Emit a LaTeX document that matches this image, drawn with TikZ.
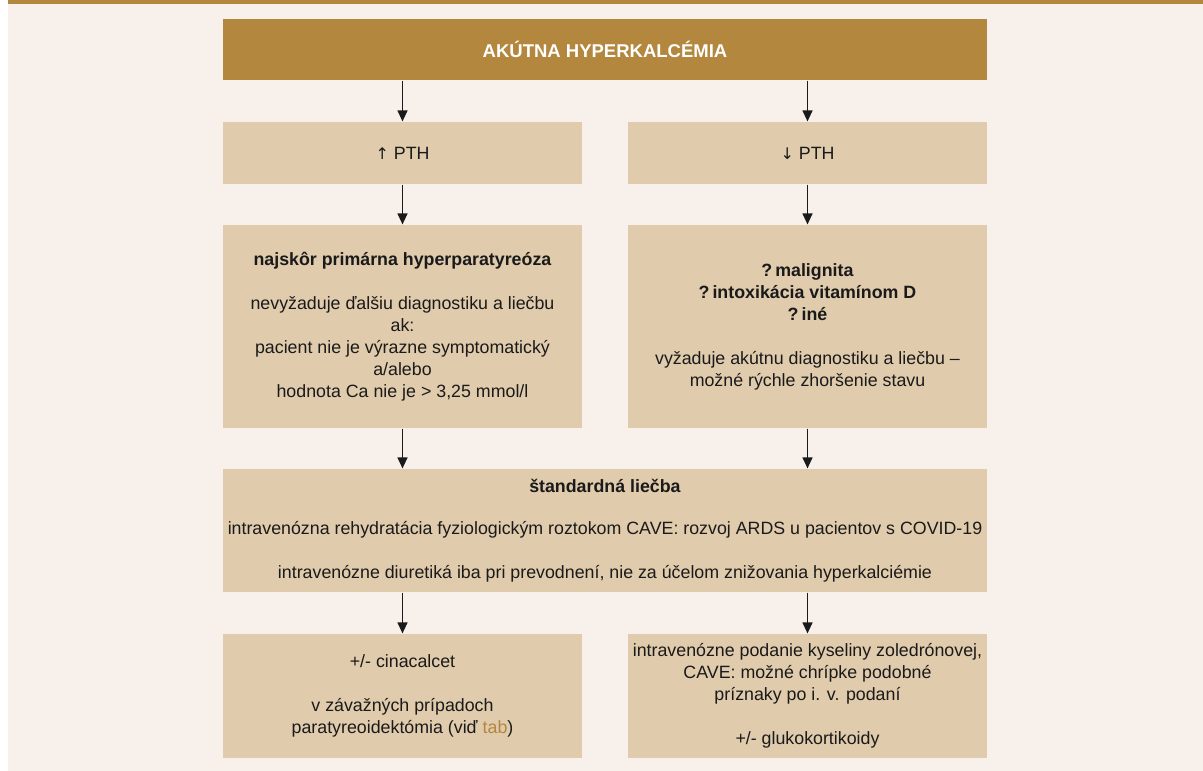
\documentclass[tikz,border=0pt]{standalone}
\usepackage{fontspec}
\setmainfont{Liberation Sans}
\newfontfamily\arrowfont{DejaVu Sans}
\usetikzlibrary{arrows.meta}
\definecolor{gold}{HTML}{B3873D}
\definecolor{sand}{HTML}{E0CBAC}
\definecolor{cream}{HTML}{F8F0EA}
\definecolor{ink}{HTML}{1A1A1A}

\begin{document}
\begin{tikzpicture}[x=1pt,y=-1pt,>={Triangle[length=11pt,width=10pt]},line width=1.2pt,
                    box/.style={fill=sand,text=ink,align=center,inner sep=0pt,
                                minimum width=359pt,font=\fontsize{17.8}{22}\selectfont},
                    wide box/.style={box,minimum width=764pt},
                    every edge/.style={draw,->,ink}]
\useasboundingbox (0,0) rectangle (1203,771);
\fill[white] (0,0) rectangle (1203,771);
\fill[cream] (8,0) rectangle (1203,771);
\fill[gold] (8,0) rectangle (1203,4);

\node[wide box,fill=gold,text=white,minimum height=61pt,font=\fontsize{18.5}{22}\selectfont] (title) at (605,49.5)
  {\bfseries AKÚTNA HYPERKALCÉMIA};

\node[box,minimum height=62pt] (pthup) at (402.5,153) {{\arrowfont\fontsize{16}{22}\selectfont ↑} PTH};
\node[box,minimum height=62pt] (pthdown) at (807.5,153) {{\arrowfont\fontsize{16}{22}\selectfont ↓} PTH};

\node[box,minimum height=203pt] (prim) at (402.5,326.5)
  {\textbf{najskôr primárna hyperparatyreóza}\\[22pt]
   nevyžaduje ďalšiu diagnostiku a liečbu\\ ak:\\
   pacient nie je výrazne symptomatický\\ a/alebo\\
   hodnota Ca nie je > 3,25 mmol/l};
\node[box,minimum height=203pt] (malig) at (807.5,326.5)
  {\textbf{?\,malignita}\\ \textbf{?\,intoxikácia vitamínom D}\\ \textbf{?\,iné}\\[22pt]
   vyžaduje akútnu diagnostiku a liečbu –\\ možné rýchle zhoršenie stavu};

\node[wide box,minimum height=123pt] (std) at (605,530.5)
  {\textbf{štandardná liečba}\\[20pt]
   intravenózna rehydratácia fyziologickým roztokom CAVE: rozvoj ARDS u pacientov s COVID-19\\[22pt]
   intravenózne diuretiká iba pri prevodnení, nie za účelom znižovania hyperkalciémie};

\node[box,minimum height=124pt] (cina) at (402.5,696)
  {+/- cinacalcet\\[22pt]
   v závažných prípadoch\\ paratyreoidektómia (viď \textcolor{gold}{tab})};
\node[box,minimum height=124pt] (zole) at (807.5,696)
  {intravenózne podanie kyseliny zoledrónovej,\\ CAVE: možné chrípke podobné\\
   príznaky po i. v. podaní\\[22pt] +/- glukokortikoidy};

\path (title.south -| pthup) edge (pthup)
      (title.south -| pthdown) edge (pthdown)
      (pthup) edge (prim)
      (pthdown) edge (malig)
      (prim) edge (std.north -| prim)
      (malig) edge (std.north -| malig)
      (std.south -| cina) edge (cina)
      (std.south -| zole) edge (zole);
\end{tikzpicture}
\end{document}
